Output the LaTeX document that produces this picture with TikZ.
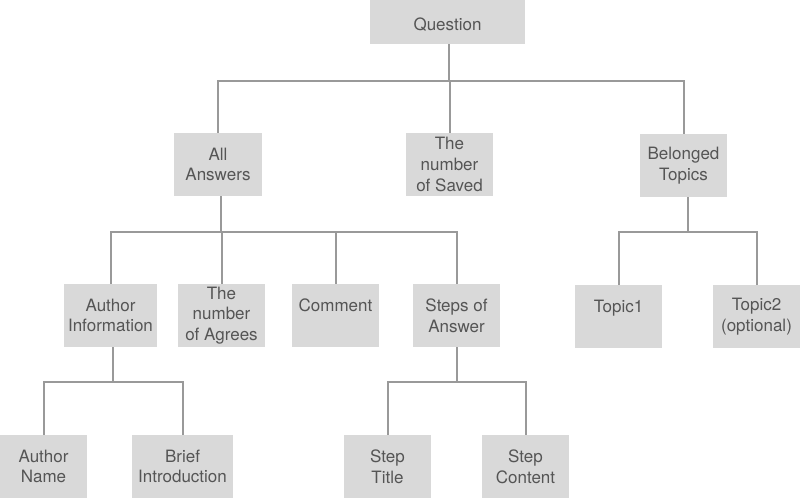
\documentclass[tikz,border=0pt]{standalone}
\usepackage{fontspec}
\setmainfont{TeX Gyre Heros}
\definecolor{boxfill}{HTML}{D9D9D9}
\definecolor{linec}{HTML}{999999}
\definecolor{txtc}{HTML}{555555}
\begin{document}
\begin{tikzpicture}[x=1pt,y=-1pt,
  box/.style={fill=boxfill, text=txtc, inner sep=0pt, minimum height=63pt,
    minimum width=87pt, align=center, font=\fontsize{17}{20.7}\selectfont,
    execute at begin node={\rule{0pt}{17pt}}},
  conn/.style={draw=linec, line width=2pt}]
\useasboundingbox (0,0) rectangle (800,498);
% nodes
\node[box, minimum width=155pt, minimum height=44pt] (q) at (447.5,22) {Question};
\node[box, minimum width=88pt] (aa) at (218,164.5) {All\\Answers};
\node[box] (ns) at (449.5,164.5) {The\\number\\of Saved};
\node[box] (bt) at (683.5,165.5) {Belonged\\Topics};
\node[box, minimum width=93pt] (ai) at (110.5,315.5) {Author\\Information};
\node[box] (na) at (221.5,315.5) {The\\number\\of Agrees};
\node[box] (cm) at (335.5,315.5) {Comment\\\phantom{A}};
\node[box] (sa) at (456.5,315.5) {Steps of\\Answer};
\node[box] (t1) at (618.5,316.5) {Topic1\\\phantom{A}};
\node[box] (t2) at (756.5,316.5) {Topic2\\(optional)};
\node[box] (an) at (43.5,466.5) {Author\\Name};
\node[box, minimum width=101pt] (bi) at (182.5,466.5) {Brief\\Introduction};
\node[box] (st) at (387.5,466.5) {Step\\Title};
\node[box] (sc) at (525.5,466.5) {Step\\Content};
% connectors
\foreach \c in {aa,ns,bt}
  \draw[conn] ([xshift=1.5pt]q.south) -- ++(0,37) -| (\c.north);
\foreach \c in {ai,na,cm,sa}
  \draw[conn] ([xshift=3pt]aa.south) -- ++(0,36) -| (\c.north);
\foreach \c in {t1,t2}
  \draw[conn] ([xshift=4.5pt]bt.south) -- ++(0,35) -| (\c.north);
\foreach \c in {an,bi}
  \draw[conn] ([xshift=2.5pt]ai.south) -- ++(0,35) -| (\c.north);
\foreach \c in {st,sc}
  \draw[conn] ([xshift=0.5pt]sa.south) -- ++(0,35) -| (\c.north);
\end{tikzpicture}
\end{document}
